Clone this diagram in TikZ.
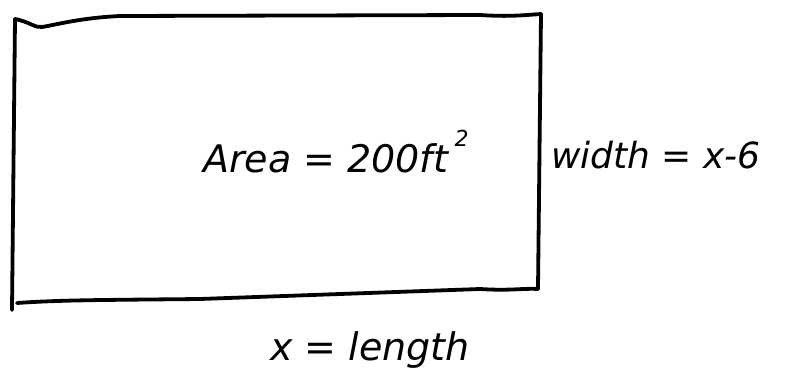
\documentclass[tikz,border=0pt]{standalone}
\usepackage{fontspec}
\setmainfont{DejaVu Sans}
\begin{document}
\begin{tikzpicture}[x=1pt,y=-1pt,
  ink/.style={line width=3.8pt,line cap=round,line join=round,black},
  hand/.style={font=\fontsize{38}{38}\selectfont\itshape,inner sep=0pt},
  hands/.style={font=\fontsize{36}{36}\selectfont\itshape,inner sep=0pt}]
\useasboundingbox (0,0) rectangle (786,386);
\coordinate (tl) at (15,19);
\coordinate (tr) at (541,14);
\coordinate (br) at (538,289);
\coordinate (bl) at (12,310);
\draw[ink] (tl) .. controls (30,22) and (35,28) .. (42,27) .. controls (60,24) and (80,18) .. (120,16) -- (480,15) .. controls (510,17) and (525,15) .. (tr);
\draw[ink] (tr) -- (br);
\draw[ink] (tl) -- (bl);
\draw[ink] (17,303) .. controls (60,300) and (100,300) .. (200,299) -- (480,289) .. controls (510,291) and (525,288) .. (br);
\node[hand,anchor=base west] (area) at (203,172) {Area = 200ft\,\raisebox{26pt}{\fontsize{22}{22}\selectfont 2}};
\node[hands] (width) at (656,155) {width = x-6};
\node[hand] (len) at (370,350) {x = length};
\end{tikzpicture}
\end{document}
